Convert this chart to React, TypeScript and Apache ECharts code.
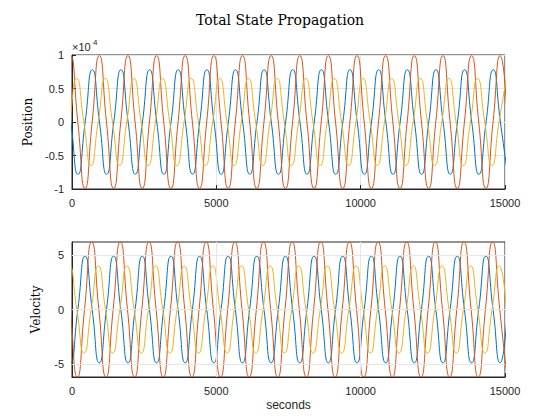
import { useEffect, useRef } from 'react';
import * as echarts from 'echarts';

// values: one oscillation per series, described by its peaks
const period = 992; // seconds between successive peaks (same for all curves)
const tEnd = 15000;
const colors = ['#0072BD', '#D95319', '#EDB120'];

// Position (raw units, axis shows x10^4)
const posAmp = [7800, 9900, 6500];
const posFirstPeak = [704, 946, 162];
// Velocity
const velAmp = [4.9, 6.2, 4.0];
const velFirstPeak = [450, 682, 912];

const xTicks = [0, 5000, 10000, 15000];
const posTicks = [-10000, -5000, 0, 5000, 10000];
const velTicks = [-5, 0, 5];

// key points every quarter period: peak, zero, trough, zero ... (smoothed by echarts)
function keyPoints(amp: number, firstPeak: number): number[][] {
  const q = period / 4;
  const pts: number[][] = [];
  let k = Math.floor(-firstPeak / q) - 1;
  const vals = [amp, 0, -amp, 0];
  for (; firstPeak + k * q <= tEnd + q; k++) {
    const t = firstPeak + k * q;
    pts.push([t, vals[((k % 4) + 4) % 4]]);
  }
  return pts;
}

export default function App() {
  const ref = useRef<HTMLDivElement>(null);

  useEffect(() => {
    if (!ref.current) return;
    const chart = echarts.init(ref.current, null, { renderer: 'svg' });
    const axisBase = {
      axisLine: { show: true, onZero: false, lineStyle: { color: '#262626' } },
      axisTick: { show: true, inside: true, length: 4, lineStyle: { color: '#262626' } },
      axisLabel: { color: '#262626', fontSize: 11, fontFamily: 'Liberation Sans, Arial' },
      splitLine: { show: true, lineStyle: { color: '#e6e6e6' } },
    };
    const grid = [
      { left: 64, right: 47, top: 47, height: 134, show: true, borderColor: '#262626', borderWidth: 1 },
      { left: 64, right: 47, top: 234, height: 135, show: true, borderColor: '#262626', borderWidth: 1 },
    ];
    const series: any[] = [];
    for (let i = 0; i < 3; i++) {
      series.push({
        type: 'line', xAxisIndex: 0, yAxisIndex: 0, data: keyPoints(posAmp[i], posFirstPeak[i]),
        smooth: 0.6, showSymbol: false, clip: true, lineStyle: { color: colors[i], width: 1 },
      });
      series.push({
        type: 'line', xAxisIndex: 1, yAxisIndex: 1, data: keyPoints(velAmp[i], velFirstPeak[i]),
        smooth: 0.6, showSymbol: false, clip: true, lineStyle: { color: colors[i], width: 1 },
      });
    }
    chart.setOption({
      animation: false,
      title: {
        text: 'Total State Propagation', left: 'center', top: 0,
        textStyle: { fontFamily: 'DejaVu Serif, serif', fontWeight: 'normal', fontSize: 14, color: '#000' },
      },
      grid,
      xAxis: [0, 1].map((g) => ({
        ...axisBase, type: 'value', gridIndex: g, min: 0, max: 15000, interval: 5000,
        axisLabel: { ...axisBase.axisLabel, customValues: xTicks, formatter: (v: number) => String(v) },
        name: g === 1 ? 'seconds' : '', nameLocation: 'middle', nameGap: 22,
        nameTextStyle: { color: '#262626', fontSize: 12, fontFamily: 'Liberation Sans, Arial' },
      })),
      yAxis: [
        {
          ...axisBase, type: 'value', gridIndex: 0, min: -10000, max: 10000, interval: 5000,
          axisLabel: { ...axisBase.axisLabel, customValues: posTicks, formatter: (v: number) => String(v / 10000) },
          name: 'Position', nameLocation: 'middle', nameGap: 30,
          nameTextStyle: { color: '#000', fontSize: 12, fontFamily: 'DejaVu Serif, serif' },
        },
        {
          ...axisBase, type: 'value', gridIndex: 1, min: -6.2, max: 6.2,
          axisTick: { ...axisBase.axisTick, customValues: velTicks },
          axisLabel: { ...axisBase.axisLabel, customValues: velTicks },
          splitLine: { show: false },
          name: 'Velocity', nameLocation: 'middle', nameGap: 30,
          nameTextStyle: { color: '#000', fontSize: 12, fontFamily: 'DejaVu Serif, serif' },
        },
      ],
      graphic: [
        { type: 'text', left: 64, top: 33, style: { text: '×10', fontSize: 11, fill: '#262626', fontFamily: 'Liberation Sans, Arial' } },
        { type: 'text', left: 85, top: 30, style: { text: '4', fontSize: 8, fill: '#262626', fontFamily: 'Liberation Sans, Arial' } },
      ],
      series: [
        ...series,
        {
          type: 'line', xAxisIndex: 1, yAxisIndex: 1, data: [], silent: true,
          markLine: {
            symbol: 'none', silent: true, label: { show: false },
            lineStyle: { color: '#e6e6e6', type: 'solid', width: 1 },
            data: [...velTicks.map((v) => ({ yAxis: v })), ...xTicks.slice(1, 3).map((v) => ({ xAxis: v }))],
          },
          z: 0,
        },
      ],
    });
    return () => chart.dispose();
  }, []);

  return <div ref={ref} style={{ width: 544, height: 404 }} />;
}
